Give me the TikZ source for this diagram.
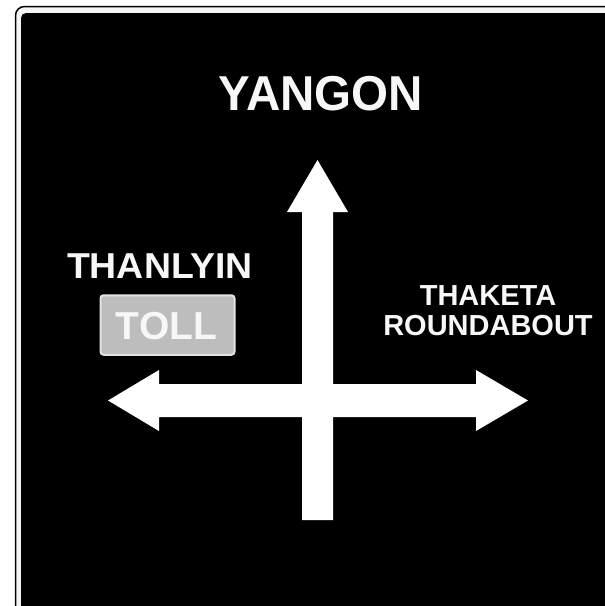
\documentclass[tikz,border=0pt]{standalone}
\usepackage{fontspec}
\setmainfont{Liberation Sans}
\usepackage{graphicx}
\usepackage{tikz}
\definecolor{tollgray}{HTML}{BDBDBD}
\definecolor{tollrim}{HTML}{E2E2E2}
\definecolor{signwhite}{HTML}{F7F7F7}

\tikzset{
  place/.style={text=signwhite, inner sep=0pt, anchor=base},
  road/.style={fill=white}
}

\begin{document}
\begin{tikzpicture}[x=1pt, y=-1pt]
\clip (0,0) rectangle (605,606);
\fill[white] (0,0) rectangle (605,606);
\draw[black, line width=1.5pt, rounded corners=9pt, fill=white!96!black] (15.5,6.5) rectangle (650,650);
\fill[black, rounded corners=5pt] (21,13) rectangle (650,650);

\coordinate (N) at (317.5,160);
\coordinate (S) at (317.5,520);
\coordinate (W) at (108,400.5);
\coordinate (E) at (528,400.5);

\fill[road] (S) ++(-15.5,0) -- ++(0,-308) -- ++(-15,0) -- (N) -- ++(30.5,52)
  -- ++(-15,0) -- ++(0,308) -- cycle;
\fill[road] (W) -- ++(51,-30.5) -- ++(0,14) -- ++(317,0) -- ++(0,-14) -- (E)
  -- ++(-52,30.5) -- ++(0,-14) -- ++(-317,0) -- ++(0,14) -- cycle;

\node[place, font=\bfseries\fontsize{49}{49}\selectfont] (yangon) at (321,110.5)
  {\scalebox{0.97}[1]{YANGON}};
\node[place, font=\bfseries\fontsize{36}{36}\selectfont] (thanlyin) at (160,278)
  {\scalebox{1.04}[1]{THANLYIN}};
\node[draw=tollrim, fill=tollgray, line width=2pt, rounded corners=3pt,
  minimum width=134, minimum height=59.5, inner sep=0pt] (tollbox) at (167.5,325) {};
\node[place, font=\bfseries\fontsize{39}{39}\selectfont] (toll) at (166.5,339.5) {TOLL};
\node[place, font=\bfseries\fontsize{29}{29}\selectfont] (thaketa) at (488,305.5) {THAKETA};
\node[place, font=\bfseries\fontsize{29}{29}\selectfont] (roundabout) at (488,335.5) {ROUNDABOUT};
\end{tikzpicture}
\end{document}
